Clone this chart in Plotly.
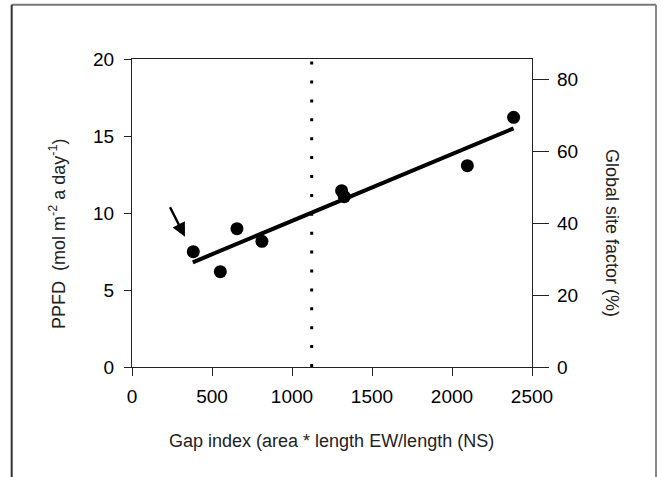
import plotly.graph_objects as go

# data
gap_index = [383, 552, 656, 812, 1310, 1327, 2096, 2385]
ppfd = [7.49, 6.19, 8.98, 8.16, 11.45, 11.06, 13.07, 16.21]
fit_x = [380, 2385]
fit_y = [6.8, 15.5]
threshold_x = [1123, 1123]
threshold_y = [0, 19.85]
arrow_head = (331, 8.46)
arrow_tail = (233, 10.47)
x_ticks = [0, 500, 1000, 1500, 2000, 2500]
y_ticks = [0, 5, 10, 15, 20]
y2_ticks = [0, 20, 40, 60, 80]

FONT = "Liberation Sans, Arial, sans-serif"
AX = "#222222"

fig = go.Figure()
fig.add_trace(go.Scatter(x=threshold_x, y=threshold_y, mode="lines",
                         line=dict(color="black", width=3, dash="3px,15.9px"),
                         showlegend=False, hoverinfo="skip"))
fig.add_trace(go.Scatter(x=fit_x, y=fit_y, mode="lines",
                         line=dict(color="black", width=4),
                         showlegend=False))
fig.add_trace(go.Scatter(x=gap_index, y=ppfd, mode="markers",
                         marker=dict(color="black", size=13),
                         showlegend=False))
# invisible trace to activate right axis
fig.add_trace(go.Scatter(x=[None], y=[None], yaxis="y2", showlegend=False))

fig.add_annotation(x=arrow_head[0], y=arrow_head[1], ax=arrow_tail[0], ay=arrow_tail[1],
                   xref="x", yref="y", axref="x", ayref="y", text="",
                   showarrow=True, arrowhead=2, arrowsize=1.1, arrowwidth=2.5, arrowcolor="black")

fig.add_annotation(x=-0.185, y=0.432, xref="paper", yref="paper",
                   text="PPFD  (mol m<sup>-2</sup> a day<sup>-1</sup>)", textangle=-90,
                   showarrow=False, xanchor="center", yanchor="middle",
                   font=dict(family=FONT, size=18, color="#222"))
fig.add_annotation(x=1.2, y=0.435, xref="paper", yref="paper",
                   text="Global site factor (%)", textangle=90,
                   showarrow=False, xanchor="center", yanchor="middle",
                   font=dict(family=FONT, size=18, color="#222"))
fig.add_annotation(x=0.499, y=-0.240, xref="paper", yref="paper",
                   text="Gap index (area * length EW/length (NS)",
                   showarrow=False, xanchor="center", yanchor="middle",
                   font=dict(family=FONT, size=18, color="#222"))

# outer frame (open at bottom)
fig.add_shape(type="line", xref="paper", yref="paper", x0=-0.3008, x1=1.31, y0=1.1763, y1=1.1763,
              line=dict(color="#777", width=2))
fig.add_shape(type="line", xref="paper", yref="paper", x0=-0.3008, x1=-0.3008, y0=1.1763, y1=-0.5,
              line=dict(color="#333", width=2))
fig.add_shape(type="line", xref="paper", yref="paper", x0=1.31, x1=1.31, y0=1.1763, y1=-0.5,
              line=dict(color="#888", width=2))

fig.update_layout(
    width=665, height=477,
    margin=dict(l=132, r=133, t=59, b=110),
    paper_bgcolor="white", plot_bgcolor="white",
    font=dict(family=FONT, size=19, color="black"),
    xaxis=dict(range=[0, 2500], tickvals=x_ticks, ticks="outside", ticklen=8,
               tickcolor=AX, showline=True, linecolor=AX, linewidth=1.2, mirror=True,
               showgrid=False, zeroline=False, ticklabelstandoff=4),
    yaxis=dict(range=[0, 20], tickvals=y_ticks, ticks="outside", ticklen=7,
               tickcolor=AX, showline=True, linecolor=AX, linewidth=1.2,
               showgrid=False, zeroline=False, ticklabelstandoff=6),
    yaxis2=dict(range=[0, 85.76], tickvals=y2_ticks, ticks="outside", ticklen=16,
                tickcolor=AX, showline=True, linecolor=AX, linewidth=1.2,
                overlaying="y", side="right", showgrid=False, zeroline=False,
                ticklabelstandoff=4),
)

fig.write_html("out.html")
